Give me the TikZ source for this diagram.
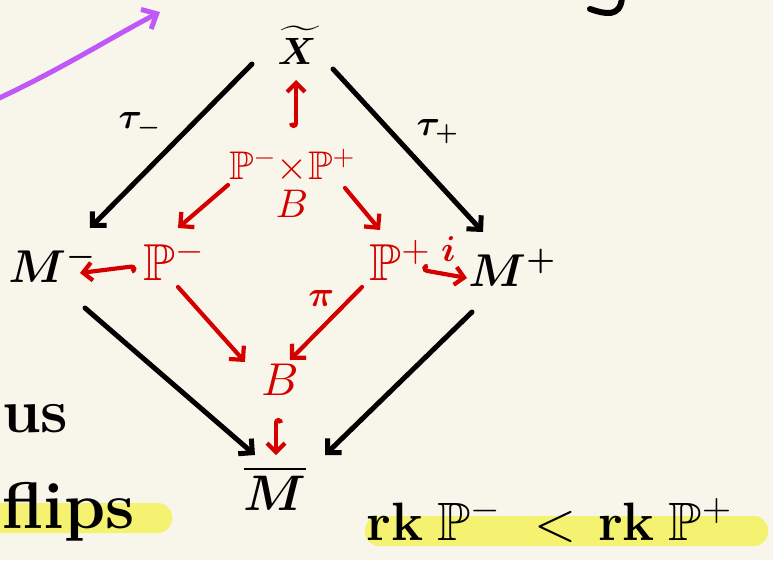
\documentclass[tikz,border=0pt]{standalone}
\usepackage{amssymb}
\DeclareFontFamily{U}{msb}{}
\DeclareFontShape{U}{msb}{m}{n}{<-> msbm10}{}
\DeclareFontShape{OML}{cmm}{m}{it}{<-> cmmi10}{}
\DeclareFontShape{OML}{cmm}{b}{it}{<-> cmmib10}{}
\DeclareFontShape{OMS}{cmsy}{m}{n}{<-> cmsy10}{}
\DeclareFontShape{OMS}{cmsy}{b}{n}{<-> cmbsy10}{}
\DeclareFontShape{OT1}{cmr}{m}{n}{<-> cmr10}{}
\DeclareFontShape{OT1}{cmr}{bx}{n}{<-> cmbx10}{}
\DeclareFontShape{OMX}{cmex}{m}{n}{<-> cmex10}{}
\usetikzlibrary{arrows.meta,calc,positioning}
\definecolor{bg}{HTML}{F8F6EA}
\definecolor{hred}{HTML}{D40000}
\definecolor{hpurple}{HTML}{C058F7}
\definecolor{hyellow}{HTML}{F6F271}
\begin{document}
\begin{tikzpicture}[x=1pt,y=-1pt,
  blk/.style={line width=5pt,line cap=round,line join=round,black},
  redl/.style={line width=4.2pt,line cap=round,line join=round,hred},
  tip/.style={-{Straight Barb[length=10pt,width=20pt]}},
  hooktip/.style={{Hooks[right,length=5pt,width=14pt]}-{Straight Barb[length=9pt,width=18pt]}},
  bigb/.style={font=\fontsize{46}{48}\selectfont\boldmath,inner sep=0pt,text=black},
  bigr/.style={font=\fontsize{52}{54}\selectfont,inner sep=0pt,text=hred},
  lbl/.style={font=\fontsize{36}{38}\selectfont\boldmath,inner sep=0pt},
  hand/.style={font=\fontsize{62}{64}\selectfont\bfseries,inner sep=0pt,text=black}
]
\fill[bg] (0,0) rectangle (773,560);
\useasboundingbox (0,0) rectangle (773,560);

% highlights
\fill[hyellow,rounded corners=14pt] (-20,503) rectangle (172,533);
\fill[hyellow,rounded corners=14pt] (365,516) rectangle (768,546);

% purple arrow
\coordinate (pa) at (-5,100);
\coordinate (pb) at (160,12);
\draw[line width=5pt,line cap=round,hpurple,-{Straight Barb[length=12pt,width=22pt]}]
  (pa) .. controls (60,70) and (110,38) .. (pb);

% top right stroke
\draw[blk,line width=6pt] (590,9) .. controls (605,14) and (620,18) .. (622,-2);

% black nodes
\node[bigb,font=\fontsize{38}{40}\selectfont\boldmath] (Xt) at (297,45) {$\widetilde{X}$};
\node[bigb] (Mm) at (52,264) {$M^{-}$};
\node[bigb] (Mp) at (512,268) {$M^{+}$};
\node[bigb,font=\fontsize{50}{52}\selectfont\boldmath] (Mb) at (275,488) {$\overline{M}$};

% red nodes
\node[bigr] (Pm) at (174,260) {$\mathbb{P}^{-}$};
\node[bigr] (Pp) at (400,260) {$\mathbb{P}^{+}$};
\node[bigr,font=\fontsize{40}{42}\selectfont] (Pr) at (292,185) {$\mathbb{P}^{-}\!\mathop{\times}\limits_{\textstyle B}\!\mathbb{P}^{+}$};
\node[bigr,font=\fontsize{46}{48}\selectfont] (B) at (280,380) {$B$};

% black arrows
\draw[blk,tip] ($(Xt)+(-45,19)$) -- ($(Mm)+(38,-36)$) node[lbl,midway,above left=6pt and 8pt] (tm) {$\tau_{-}$};
\draw[blk,tip] ($(Xt)+(36,24)$) -- ($(Mp)+(-29,-36)$) node[lbl,midway,above right=4pt and 6pt] (tp) {$\tau_{+}$};
\draw[blk,tip] ($(Mm)+(33,44)$) -- ($(Mb)+(-20,-33)$);
\draw[blk,tip] ($(Mp)+(-40,44)$) -- ($(Mb)+(50,-33)$);

% red arrows
\draw[redl,hooktip] ($(Pr)+(4,-57)$) -- ($(Xt)+(-1,35)$);
\draw[redl,tip] ($(Pr)+(-64,0)$) -- ($(Pm)+(4,-32)$);
\draw[redl,tip] ($(Pr)+(53,3)$) -- ($(Pp)+(-20,-30)$);
\draw[redl,hooktip] ($(Pm)+(-38,6)$) -- ($(Mm)+(28,9)$);
\draw[redl,hooktip] ($(Pp)+(22,10)$) -- ($(Mp)+(-45,10)$) node[lbl,midway,above=10pt,xshift=4pt,text=hred] (il) {$i$};
\draw[redl,tip] ($(Pm)+(4,27)$) -- ($(B)+(-35,-18)$);
\draw[redl,tip] ($(Pp)+(-38,27)$) -- ($(B)+(10,-20)$) node[lbl,pos=0.3,above left=0pt and 4pt,text=hred] (pil) {$\pi$};
\draw[redl,hooktip] ($(B)+(-4,38)$) -- ($(Mb)+(1,-33)$);

% side texts
\node[hand,anchor=base west] (us) at (2,432) {us};
\node[hand,anchor=base west,font=\fontsize{66}{68}\selectfont\bfseries] (fl) at (2,528) {flips};
\node[hand,anchor=base west,font=\fontsize{54}{56}\selectfont\bfseries] (rk) at (366,540)
  {rk\hspace{14pt}$\mathbb{P}^{-}$\hspace{34pt}$<$\hspace{22pt}rk\hspace{14pt}$\mathbb{P}^{+}$};
\end{tikzpicture}
\end{document}
